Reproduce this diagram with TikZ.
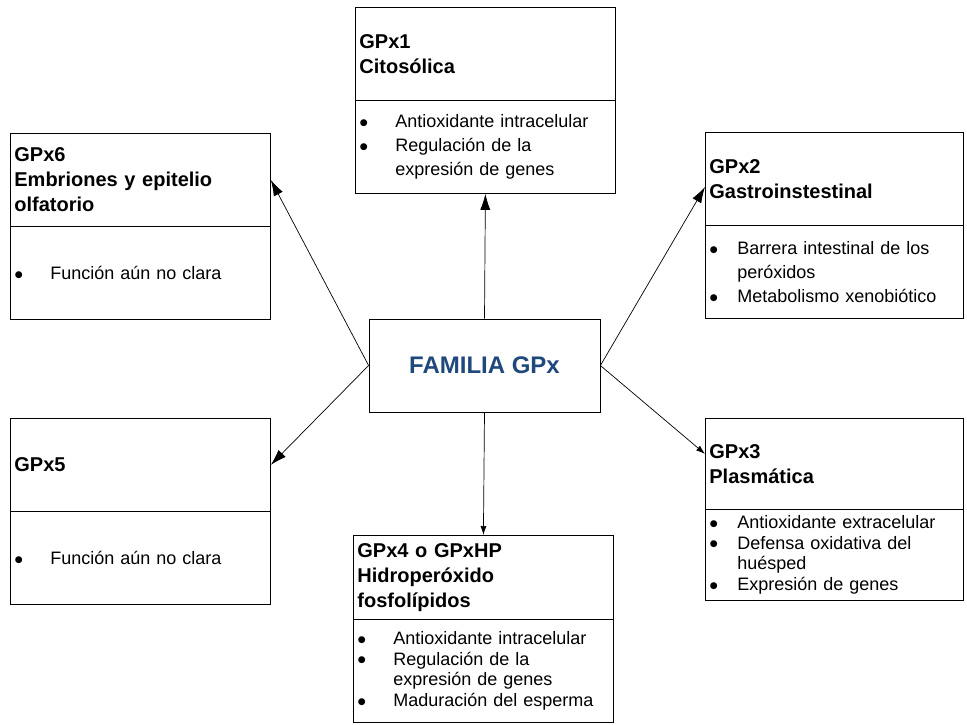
\documentclass[tikz,border=0pt]{standalone}
\usepackage{fontspec}
\setmainfont{Liberation Sans}
\newfontfamily\symfnt{DejaVu Sans}
\usetikzlibrary{arrows.meta}
\definecolor{famblue}{RGB}{31,73,125}
\newcommand{\bdot}{\raisebox{2.3pt}{\symfnt\fontsize{9}{9}\selectfont ●}}
\newcommand{\bitem}[1][36pt]{\makebox[#1][l]{\hspace{0.5pt}\bdot}}
\newcommand{\bcont}[1][36pt]{\hspace*{#1}}
\tikzset{
  boxpart/.style={draw, line width=0.8pt, anchor=north west, inner xsep=4pt, inner ysep=0pt,
    text width=252pt, align=left, minimum height=#1},
  hdr/.style={boxpart=#1, font=\fontsize{20}{25}\selectfont\bfseries},
  bdy/.style={boxpart=#1, font=\fontsize{18}{24}\selectfont},
  tight/.style={font=\fontsize{18}{20.7}\selectfont},
  narrow/.style={text width=250pt},
  arr/.style={-{Latex[length=16pt,width=10pt]}, line width=0.7pt},
  arrs/.style={-{Latex[length=9pt,width=6pt]}, line width=0.7pt},
  fambox/.style={draw, line width=0.8pt, minimum width=231pt, minimum height=93pt,
    font=\fontsize{24}{28}\selectfont\bfseries, text=famblue}
}
\begin{document}
\begin{tikzpicture}[x=1pt,y=-1pt]
\useasboundingbox (0,0) rectangle (967,724);

\node[fambox] (fam) at (484.5,365.5) {FAMILIA GPx};

% GPx1
\node[hdr=93pt] (g1h) at (355,7) {GPx1\\Citosólica};
\node[bdy=93pt] (g1b) at (355,100) {\bitem Antioxidante intracelular\\\bitem Regulación de la\\\bcont expresión de genes};

% GPx6
\node[hdr=93pt] (g6h) at (10,133) {GPx6\\Embriones y epitelio\\olfatorio};
\node[bdy=93pt] (g6b) at (10,226) {\bitem Función aún no clara};

% GPx2
\node[hdr=93pt, narrow] (g2h) at (705,132) {GPx2\\Gastroinstestinal};
\node[bdy=93pt, narrow] (g2b) at (705,225) {\bitem[28pt]Barrera intestinal de los\\\bcont[28pt]peróxidos\\\bitem[28pt]Metabolismo xenobiótico};

% GPx5
\node[hdr=93pt] (g5h) at (10,418) {GPx5};
\node[bdy=93pt] (g5b) at (10,511) {\bitem Función aún no clara};

% GPx3
\node[hdr=91pt, narrow] (g3h) at (705,418) {GPx3\\Plasmática};
\node[bdy=91pt, narrow, tight] (g3b) at (705,509) {\bitem[28pt]Antioxidante extracelular\\\bitem[28pt]Defensa oxidativa del\\\bcont[28pt]huésped\\\bitem[28pt]Expresión de genes};

% GPx4
\node[hdr=84pt] (g4h) at (353,535) {GPx4 o GPxHP\\Hidroperóxido\\fosfolípidos};
\node[bdy=103pt, tight] (g4b) at (353,619) {\bitem Antioxidante intracelular\\\bitem Regulación de la\\\bcont expresión de genes\\\bitem Maduración del esperma};

% connectors
\draw[arr] (fam.north) -- (g1b.south);
\draw[arrs] (fam.south) -- (g4h.north);
\draw[arr] (fam.west) -- (g6h.east);
\draw[arr] (fam.west) -- (g5h.east);
\draw[arr] (fam.east) -- ([yshift=-8pt]g2h.west);
\draw[arrs] (fam.east) -- ([yshift=10pt]g3h.west);
\end{tikzpicture}
\end{document}
